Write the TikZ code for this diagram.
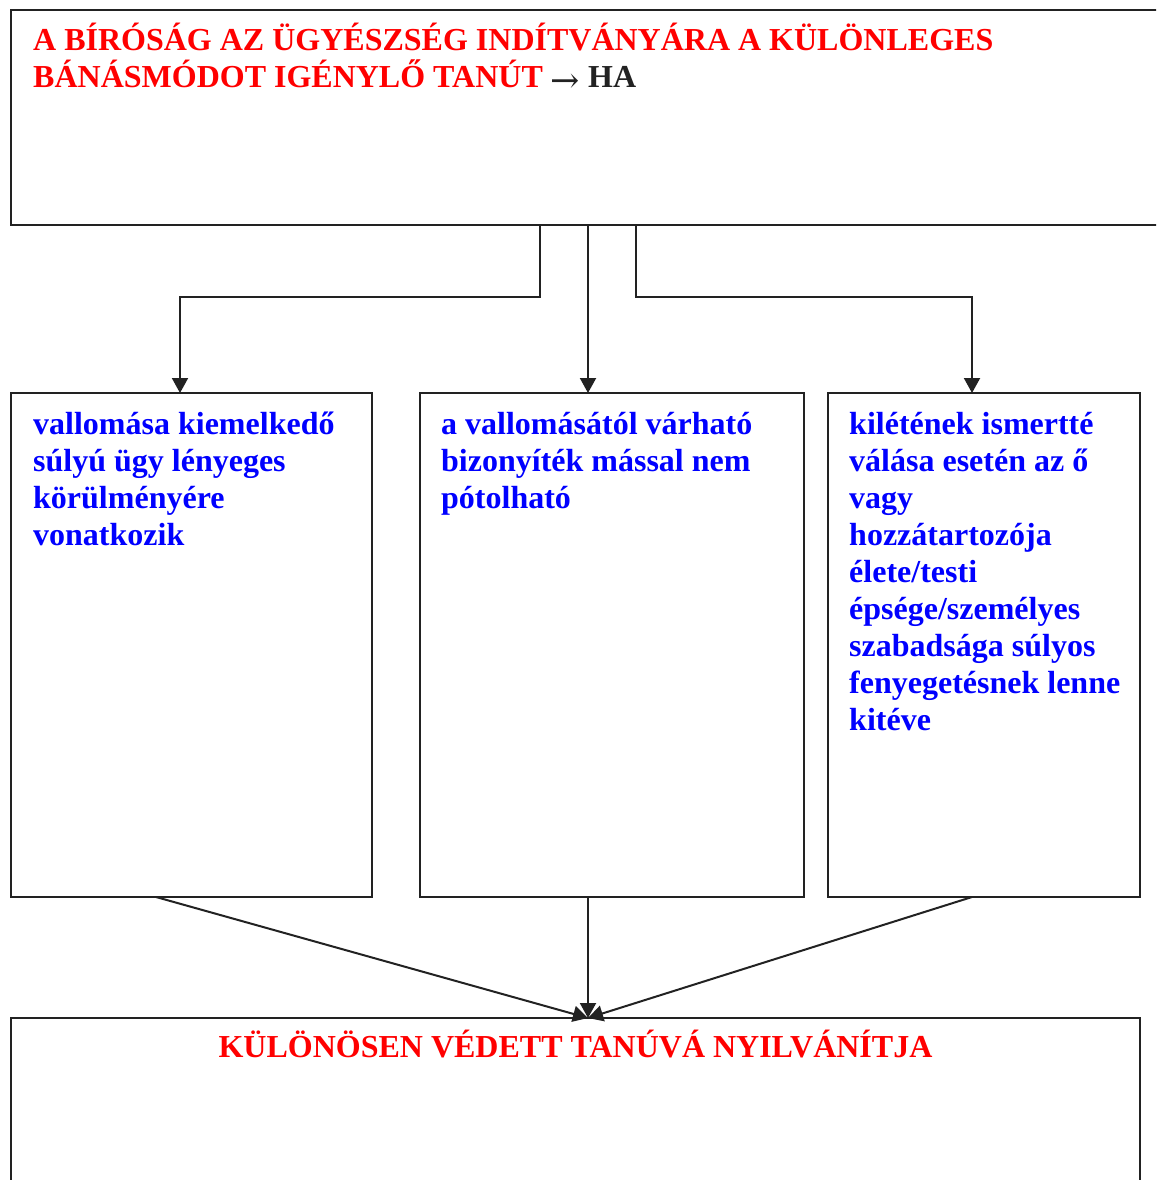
\documentclass[tikz,border=0pt]{standalone}
\usepackage{fontspec}
\setmainfont{Liberation Serif}[BoldFont={Liberation Serif Bold}]
\newfontfamily\nyilfont{DejaVu Serif}
\usepackage{tikz}
\usetikzlibrary{arrows.meta}
\definecolor{vonal}{RGB}{34,34,34}
\tikzset{
    %Define standard arrow tip
    >={Triangle[length=15pt,width=16pt]},
    %Define style for boxes
    doboz/.style={
           rectangle,
           draw=vonal, line width=2.4pt,
           inner sep=0pt, outer sep=0pt,
           anchor=north west},
    %Define style for texts (anchored at the last line)
    felirat/.style={
           inner sep=0pt,
           align=left,
           anchor=base west,
           font=\fontsize{32}{37}\selectfont\bfseries},
    piros/.style={felirat, text=red},
    kek/.style={felirat, text=blue},
    % Define arrow style
    pil/.style={
           ->,
           draw=vonal,
           line width=2pt}
}
\begin{document}
\begin{tikzpicture}[x=1pt,y=-1pt]
\useasboundingbox (0,0) rectangle (1156,1180);
\clip (0,0) rectangle (1156,1180);
 %boxes
\node[doboz, minimum width=1154pt, minimum height=215pt] (birosag) at (11,10) {};
\node[doboz, minimum width=361pt, minimum height=504pt] (vallomas) at (11,393) {};
\node[doboz, minimum width=384pt, minimum height=504pt] (bizonyitek) at (420,393) {};
\node[doboz, minimum width=312pt, minimum height=504pt] (kilete) at (828,393) {};
\node[doboz, minimum width=1129pt, minimum height=200pt] (vedett) at (11,1018) {};

 %texts
\node[piros] (birosagtxt) at ([xshift=22pt,yshift=-78pt]birosag.north west)
    {A BÍRÓSÁG AZ ÜGYÉSZSÉG INDÍTVÁNYÁRA A KÜLÖNLEGES\\
     BÁNÁSMÓDOT IGÉNYLŐ TANÚT \textcolor{vonal}{\raisebox{-5pt}{\nyilfont\mdseries\fontsize{35}{37}\selectfont →} HA}};
\node[kek] (vallomastxt) at ([xshift=22pt,yshift=-152pt]vallomas.north west)
    {vallomása kiemelkedő\\súlyú ügy lényeges\\körülményére\\vonatkozik};
\node[kek] (bizonyitektxt) at ([xshift=21pt,yshift=-115pt]bizonyitek.north west)
    {a vallomásától várható\\bizonyíték mással nem\\pótolható};
\node[kek] (kiletetxt) at ([xshift=21pt,yshift=-337pt]kilete.north west)
    {kilétének ismertté\\válása esetén az ő\\vagy\\hozzátartozója\\élete/testi\\épsége/személyes\\szabadsága súlyos\\fenyegetésnek lenne\\kitéve};
\node[piros, anchor=base] (vedetttxt) at ([yshift=-39pt]vedett.north)
    {KÜLÖNÖSEN VÉDETT TANÚVÁ NYILVÁNÍTJA};

 %connectors
\coordinate (cel) at (vedett.north -| birosag.south);
\draw[pil] ([xshift=-48pt]birosag.south) -- ++(0,72) -| ([xshift=-11.5pt]vallomas.north);
\draw[pil] (birosag.south) -- (birosag.south |- bizonyitek.north);
\draw[pil] ([xshift=48pt]birosag.south) -- ++(0,72) -| ([xshift=-12pt]kilete.north);
\draw[pil] ([xshift=-35.5pt]vallomas.south) -- (cel);
\draw[pil] (bizonyitek.south -| cel) -- (cel);
\draw[pil] ([xshift=-12pt]kilete.south) -- (cel);
\end{tikzpicture}
\end{document}
